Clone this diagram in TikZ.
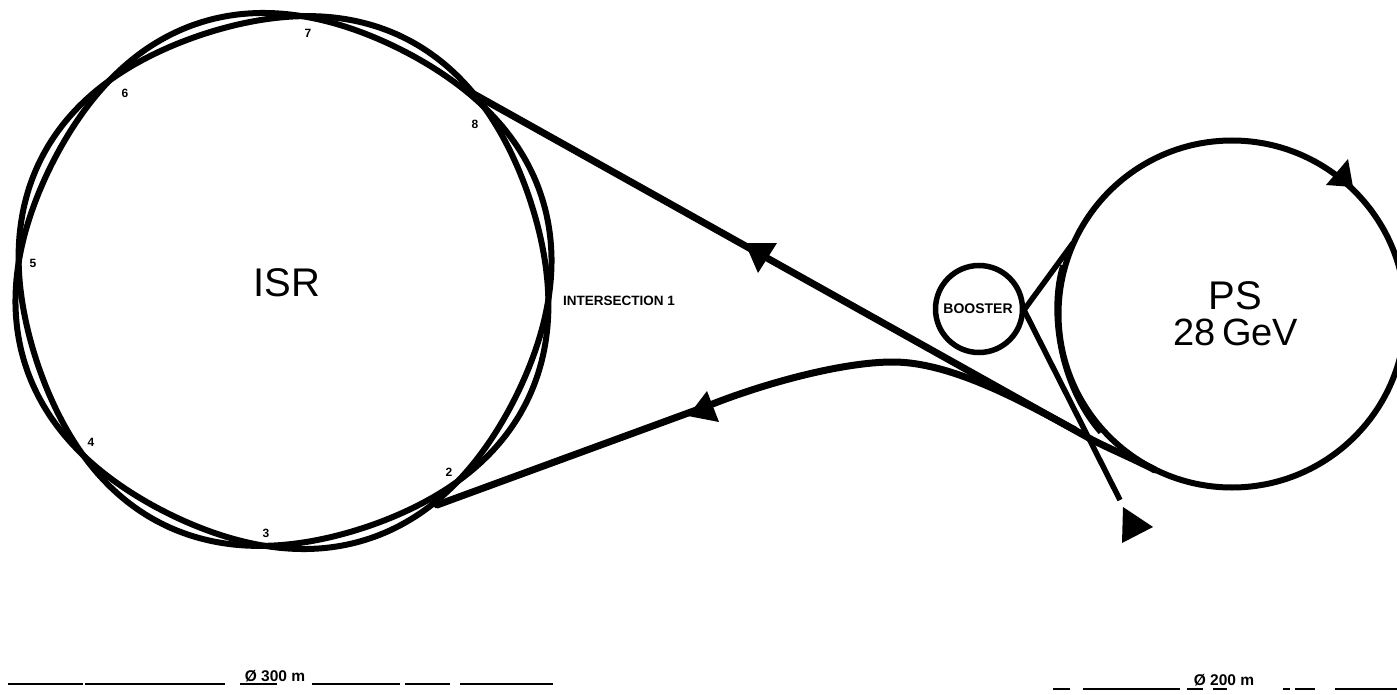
\documentclass[tikz,border=0pt]{standalone}
\usepackage{fontspec}
\setmainfont{Liberation Sans}
\begin{document}
\begin{tikzpicture}[
        x=1pt, y=-1pt,
        ring/.style={line width=6pt},
        beam/.style={line width=7pt, line cap=round},
        thinbeam/.style={line width=5.5pt},
        head/.style={fill=black, draw=none},
        bar/.style={line width=2.5pt},
        biglabel/.style={font=\fontsize{40}{37}\selectfont, align=center, inner sep=0pt},
        ticklabel/.style={font=\fontsize{12}{12}\selectfont\bfseries, inner sep=0pt},
        smalllabel/.style={font=\fontsize{13.5}{13.5}\selectfont\bfseries, inner sep=0pt},
        barlabel/.style={font=\fontsize{15.5}{15.5}\selectfont\bfseries, inner sep=0pt}
    ]
        \useasboundingbox (0,0) rectangle (1397,695);
        \clip (0,0) rectangle (1397,695);

        % ISR rings
        \draw[ring] plot[domain=0:360, samples=145, smooth cycle] ({283.5+(265.5+6*sin(4*(\x+4)))*cos(\x)}, {281-(265.5+6*sin(4*(\x+4)))*sin(\x)});
        \draw[ring] plot[domain=0:360, samples=145, smooth cycle] ({283.5+(265.5-6*sin(4*(\x+4)))*cos(\x)}, {281-(265.5-6*sin(4*(\x+4)))*sin(\x)});
        \node[biglabel] (isr) at (287,283) {ISR};

        % Crossing numbers
        \node[ticklabel] (n7) at (308,33) {7};
        \node[ticklabel] (n6) at (125,93) {6};
        \node[ticklabel] (n8) at (475,124) {8};
        \node[ticklabel] (n5) at (33,263) {5};
        \node[ticklabel] (n4) at (91,442) {4};
        \node[ticklabel] (n3) at (266,533) {3};
        \node[ticklabel] (n2) at (449,472) {2};
        \node[smalllabel, anchor=west] (inter) at (563,301) {INTERSECTION 1};

        % PS and booster
        \node[circle, draw, line width=6pt, minimum size=347pt, inner sep=0pt] (ps) at (1232,314) {};
        \node[biglabel] (pslabel) at (1235,296) {PS};
        \node[biglabel, font=\fontsize{38}{37}\selectfont] (gev) at (1236,332) {28\,GeV};
        \node[circle, draw, line width=5.5pt, minimum size=87pt, inner sep=0pt] (booster) at (979,309) {};
        \node[font=\fontsize{14}{14}\selectfont\bfseries, inner sep=0pt] (boosterlabel) at (978,309) {BOOSTER};

        % Booster lines
        \coordinate (apex) at (1024,310);
        \coordinate (psjoin) at (1073,243);
        \coordinate (boostend) at (1120,500);
        \draw[thinbeam] (apex) -- (psjoin);
        \draw[thinbeam] (apex) -- (boostend);
        \draw[line width=3.5pt] (1062,265) .. controls (1048,310) and (1058,385) .. (1100,433);

        % Transfer lines
        \coordinate (ttstart) at (472,93);
        \coordinate (ttmerge) at (1087,437);
        \coordinate (ttend) at (1155,470);
        \coordinate (lowstart) at (437,505);
        \coordinate (lowmid) at (710,405);
        \draw[beam] (ttstart) -- (ttmerge) .. controls (1105,447) and (1130,457) .. (ttend);
        \draw[beam] (lowstart) -- (lowmid) .. controls (760,385) and (840,362) .. (893,362) .. controls (950,362) and (1020,400) .. (1075,430);

        % Arrow heads
        \fill[head] (745,243) -- (777,243) -- (758,273) -- cycle;
        \fill[head] (688,416) -- (707,391) -- (719,422) -- cycle;
        \fill[head] (1348,159) -- (1326,185) -- (1353,187) -- cycle;
        \fill[head] (1123,507) -- (1153,527) -- (1122,543) -- cycle;

        % Scale bars
        \coordinate (isrbarl) at (8,684);
        \coordinate (isrbarr) at (553,684);
        \coordinate (psbarl) at (1053,689);
        \coordinate (psbarr) at (1397,689);
        \draw[bar, dash pattern=on 75pt off 2pt on 140pt off 15pt on 37pt off 35pt on 88pt off 5pt on 45pt off 10pt on 93pt off 100pt] (isrbarl) -- (isrbarr);
        \draw[bar, dash pattern=on 17pt off 13pt on 97pt off 7pt on 16pt off 10pt on 14pt off 56pt on 7pt off 5pt on 20pt off 20pt on 62pt off 100pt] (psbarl) -- (psbarr);
        \node[barlabel] (isrbar) at (275,676) {Ø 300 m};
        \node[barlabel] (psbar) at (1224,680) {Ø 200 m};
    \end{tikzpicture}
\end{document}
